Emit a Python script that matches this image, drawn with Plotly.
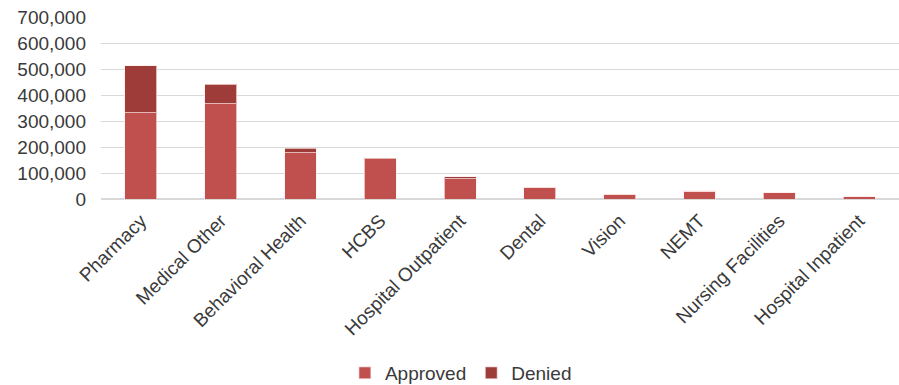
import plotly.graph_objects as go

categories = ["Pharmacy", "Medical Other", "Behavioral Health", "HCBS", "Hospital Outpatient",
              "Dental", "Vision", "NEMT", "Nursing Facilities", "Hospital Inpatient"]
approved = [332000, 366000, 178000, 154000, 78000, 45000, 18000, 29000, 24000, 8000]
denied = [181000, 75000, 17000, 2000, 7000, 1000, 1000, 2000, 1000, 1000]

fig = go.Figure()
fig.add_bar(x=categories, y=approved, name="Approved",
            marker=dict(color="#C0504D", line=dict(color="rgba(255,235,235,0.7)", width=1)))
fig.add_bar(x=categories, y=denied, name="Denied",
            marker=dict(color="#9E3C3A", line=dict(color="rgba(255,235,235,0.7)", width=1)))

fig.update_layout(
    barmode="stack", bargap=0.6,
    width=899, height=385,
    margin=dict(l=101, r=0, t=17, b=186, autoexpand=False),
    paper_bgcolor="white", plot_bgcolor="white",
    font=dict(family="Liberation Sans, Arial", size=19, color="#3a3a3a"),
    showlegend=True,
    legend=dict(orientation="h", x=0.451, xanchor="center", y=-0.956, yanchor="middle",
                font=dict(size=19), traceorder="normal", itemwidth=30),
    yaxis=dict(range=[0, 700000], dtick=100000, tickformat=",", showgrid=True,
               gridcolor="#D9D9D9", gridwidth=1, zeroline=True, zerolinecolor="#D9D9D9",
               ticks="", ticklen=0, showline=False, ticklabelstandoff=14, automargin=False),
    xaxis=dict(tickangle=-45, showline=False, ticks="", ticklabelstandoff=6, automargin=False),
)
fig.write_html("out.html")
